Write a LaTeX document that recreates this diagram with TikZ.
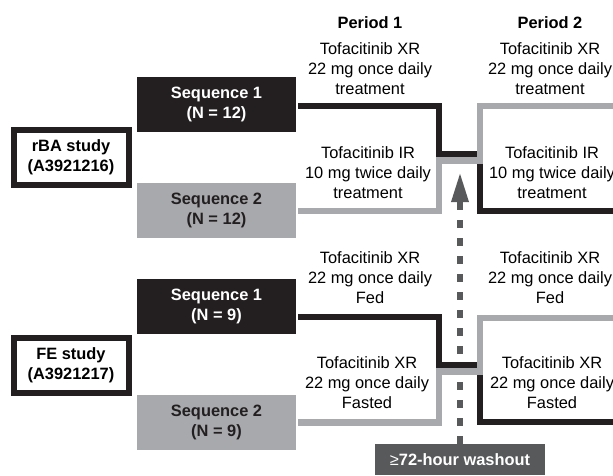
\documentclass[tikz,border=0pt]{standalone}
\usepackage{fontspec}
\setmainfont{Liberation Sans}
\usetikzlibrary{arrows.meta}
\definecolor{inkblack}{HTML}{231F20}
\definecolor{inkgray}{HTML}{A7A9AC}
\definecolor{inkdark}{HTML}{58595B}
\newcommand{\armfont}{\fontsize{16.4}{20}\selectfont}
\begin{document}
\begin{tikzpicture}[x=1pt,y=-1pt,
  every node/.style={font=\armfont, inner sep=0pt, align=center},
  studybox/.style={draw=inkblack, line width=6pt, fill=white, minimum width=115pt, minimum height=55pt, font=\armfont\bfseries},
  seqdark/.style={fill=inkblack, text=white, minimum width=159pt, minimum height=55pt, font=\armfont\bfseries},
  seqlight/.style={fill=inkgray, text=inkblack, minimum width=159pt, minimum height=55pt, font=\armfont\bfseries},
  armblack/.style={draw=inkblack, line width=6.5pt, line join=miter},
  armgray/.style={draw=inkgray, line width=6.5pt, line join=miter},
  washbox/.style={fill=inkdark, text=white, minimum width=170pt, minimum height=31pt, font=\armfont\bfseries},
  washarrow/.style={draw=inkdark, line width=6pt, dash pattern=on 8pt off 10pt, -{Triangle[length=30pt,width=16pt]}}]
            \useasboundingbox (0,0) rectangle (613,475);
            \node[studybox] (rba) at (71,157.5) {rBA study\\(A3921216)};
            \node[studybox] (fe) at (71,365) {FE study\\(A3921217)};
            \node[seqdark] (rs1) at (216.5,104.5) {Sequence 1\\(N = 12)};
            \node[seqlight] (rs2) at (216.5,210.5) {Sequence 2\\(N = 12)};
            \node[seqdark] (fs1) at (216.5,306) {Sequence 1\\(N = 9)};
            \node[seqlight] (fs2) at (216.5,422.5) {Sequence 2\\(N = 9)};
            \node[font=\armfont\bfseries] (per1) at (370,23) {Period 1};
            \node[font=\armfont\bfseries] (per2) at (550,23) {Period 2};
            \node (r1a) at (370,69) {Tofacitinib XR\\22 mg once daily\\treatment};
            \node (r1b) at (368,173) {Tofacitinib IR\\10 mg twice daily\\treatment};
            \node (r2a) at (550,69) {Tofacitinib XR\\22 mg once daily\\treatment};
            \node (r2b) at (552,173) {Tofacitinib IR\\10 mg twice daily\\treatment};
            \node (f1a) at (370,278) {Tofacitinib XR\\22 mg once daily\\Fed};
            \node (f1b) at (367,383) {Tofacitinib XR\\22 mg once daily\\Fasted};
            \node (f2a) at (550,278) {Tofacitinib XR\\22 mg once daily\\Fed};
            \node (f2b) at (552,383) {Tofacitinib XR\\22 mg once daily\\Fasted};
            \node[washbox] (wash) at (460,459.5) {{\mdseries ≥}72-hour washout};
            \coordinate (washtip) at (460,172);
            \coordinate (rend1) at (613,211);
            \coordinate (rend2) at (613,106);
            \coordinate (fend1) at (613,422);
            \coordinate (fend2) at (613,318);
            \draw[washarrow] (wash.north) -- (washtip);
            \draw[armblack] ([xshift=2pt,yshift=-1.5pt]rs1.east) -| (439,154) -| (480,211) -- (rend1);
            \draw[armgray] ([xshift=2pt,yshift=-0.5pt]rs2.east) -| (439,160.5) -| (480,106) -- (rend2);
            \draw[armblack] ([xshift=2pt,yshift=-11pt]fs1.east) -| (439,365) -| (480,422) -- (fend1);
            \draw[armgray] ([xshift=2pt]fs2.east) -| (439,371.5) -| (480,318) -- (fend2);
\end{tikzpicture}
\end{document}
